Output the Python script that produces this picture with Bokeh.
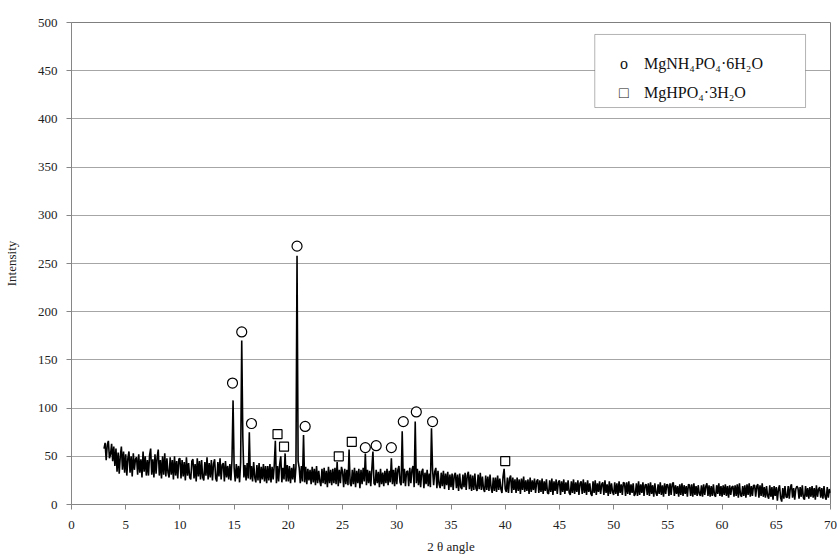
from bokeh.plotting import figure
from bokeh.models import BoxAnnotation, Label, Range1d, FixedTicker
from bokeh.embed import file_html
from bokeh.resources import INLINE

# ---- data -----------------------------------------------------------------
two_theta_start = 3.0
two_theta_step = 0.1
intensity = [
    58, 64, 46, 62, 66, 48, 52, 63, 45, 60,   # 3
    40, 58, 34, 54, 32, 50, 60, 36, 55, 33,   # 4
    52, 30, 48, 55, 33, 50, 29, 53, 36, 47,   # 5
    49, 31, 52, 33, 47, 28, 55, 34, 50, 30,   # 6
    46, 30, 51, 58, 31, 47, 28, 52, 32, 49,   # 7
    57, 30, 46, 27, 50, 31, 53, 29, 48, 33,   # 8
    28, 49, 31, 46, 26, 50, 30, 45, 27, 47,   # 9
    48, 27, 46, 29, 44, 25, 49, 30, 43, 28,   # 10
    26, 45, 47, 27, 42, 24, 48, 29, 45, 26,   # 11
    46, 28, 25, 44, 30, 49, 26, 43, 28, 46,   # 12
    25, 42, 47, 27, 24, 44, 29, 48, 26, 41,   # 13
    43, 24, 45, 28, 40, 26, 42, 25, 46, 108,  # 14
    38, 24, 42, 27, 40, 23, 44, 170, 70, 28,  # 15
    41, 25, 43, 27, 75, 26, 40, 24, 44, 28,   # 16
    23, 41, 25, 43, 22, 39, 26, 42, 24, 40,   # 17
    22, 40, 25, 42, 23, 39, 26, 41, 66, 22,   # 18
    40, 24, 42, 50, 23, 38, 26, 53, 24, 41,   # 19
    24, 40, 22, 38, 26, 42, 23, 39, 258, 45,  # 20
    38, 22, 40, 24, 72, 23, 39, 21, 37, 25,   # 21
    36, 21, 39, 23, 37, 20, 40, 22, 35, 24,   # 22
    19, 37, 22, 38, 21, 35, 18, 39, 22, 36,   # 23
    20, 37, 22, 38, 21, 44, 19, 36, 22, 39,   # 24
    34, 18, 37, 21, 36, 20, 57, 22, 19, 36,   # 25
    21, 38, 18, 35, 22, 37, 17, 36, 21, 38,   # 26
    24, 53, 20, 36, 22, 35, 19, 37, 55, 22,   # 27
    20, 36, 22, 34, 18, 37, 21, 33, 19, 35,   # 28
    22, 37, 20, 35, 23, 48, 21, 36, 19, 38,   # 29
    21, 36, 40, 23, 20, 76, 22, 37, 19, 34,   # 30
    35, 19, 38, 22, 36, 40, 18, 86, 22, 37,   # 31
    20, 35, 18, 34, 37, 17, 33, 21, 36, 19,   # 32
    32, 18, 79, 36, 20, 34, 38, 17, 35, 21,   # 33
    17, 33, 19, 35, 16, 32, 20, 34, 15, 31,   # 34
    18, 32, 15, 30, 33, 17, 31, 14, 32, 18,   # 35
    16, 31, 18, 33, 15, 30, 34, 16, 31, 14,   # 36
    30, 15, 32, 17, 14, 31, 16, 33, 15, 29,   # 37
    16, 13, 30, 15, 29, 14, 31, 17, 12, 28,   # 38
    14, 28, 13, 30, 15, 27, 16, 12, 29, 37,   # 39
    16, 13, 28, 12, 27, 30, 12, 28, 15, 26,   # 40
    12, 28, 14, 26, 11, 27, 15, 29, 13, 25,   # 41
    14, 26, 11, 28, 13, 25, 15, 27, 12, 24,   # 42
    26, 12, 25, 13, 27, 11, 24, 14, 26, 12,   # 43
    11, 25, 13, 27, 10, 24, 14, 26, 11, 23,   # 44
    25, 10, 24, 13, 26, 11, 23, 14, 25, 12,   # 45
    10, 24, 12, 26, 11, 23, 13, 25, 10, 22,   # 46
    24, 11, 26, 12, 23, 10, 25, 13, 22, 11,   # 47
    9, 24, 12, 25, 10, 22, 13, 24, 11, 21,    # 48
    23, 10, 25, 12, 21, 9, 24, 11, 22, 13,    # 49
    10, 23, 11, 22, 9, 24, 12, 21, 10, 23,    # 50
    22, 9, 23, 11, 24, 10, 21, 12, 22, 9,     # 51
    11, 22, 9, 24, 10, 21, 12, 23, 9, 20,     # 52
    21, 10, 22, 9, 23, 11, 20, 8, 22, 12,     # 53
    9, 21, 11, 23, 10, 20, 8, 22, 11, 21,     # 54
    20, 9, 22, 10, 21, 23, 9, 20, 11, 19,     # 55
    8, 21, 10, 22, 9, 20, 11, 19, 8, 21,      # 56
    20, 9, 21, 8, 22, 10, 19, 9, 20, 11,      # 57
    9, 20, 8, 21, 10, 19, 22, 9, 20, 8,       # 58
    19, 9, 21, 10, 8, 20, 11, 22, 9, 19,      # 59
    8, 20, 10, 21, 9, 19, 7, 20, 10, 18,      # 60
    19, 8, 20, 9, 21, 7, 22, 10, 8, 19,       # 61
    9, 20, 7, 21, 10, 22, 8, 19, 9, 20,       # 62
    20, 8, 19, 21, 7, 20, 9, 22, 8, 18,       # 63
    7, 19, 9, 6, 20, 8, 18, 5, 19, 9,         # 64
    18, 4, 16, 20, 7, 3, 17, 6, 19, 8,        # 65
    7, 19, 6, 18, 21, 7, 17, 5, 16, 19,       # 66
    17, 6, 18, 8, 20, 7, 5, 19, 8, 17,        # 67
    6, 18, 8, 19, 7, 17, 5, 20, 8, 16,        # 68
    18, 7, 17, 6, 19, 8, 5, 18, 7, 16,        # 69
    12,                                       # 70
]
two_theta = [round(two_theta_start + i * two_theta_step, 2) for i in range(len(intensity))]

# peak markers: MgNH4PO4·6H2O (circles) and MgHPO4·3H2O (squares)
struvite_x = [14.85, 15.7, 16.6, 20.8, 21.55, 27.1, 28.1, 29.5, 30.6, 31.8, 33.3]
struvite_y = [126, 179, 84, 268, 81, 59, 61, 59, 86, 96, 86]
newberyite_x = [19.0, 19.6, 24.65, 25.85, 40.0]
newberyite_y = [73, 60, 50, 65, 45]

x_ticks = [0, 5, 10, 15, 20, 25, 30, 35, 40, 45, 50, 55, 60, 65, 70]
y_ticks = [0, 50, 100, 150, 200, 250, 300, 350, 400, 450, 500]

legend_labels = ["MgNH\u2084PO\u2084\u00b76H\u2082O", "MgHPO\u2084\u00b73H\u2082O"]
legend_symbols = ["o", "\u25a1"]

# ---- figure ---------------------------------------------------------------
FONT = "Liberation Serif"

p = figure(width=837, height=558, output_backend="svg", toolbar_location=None,
           x_range=Range1d(0, 70), y_range=Range1d(0, 500),
           min_border_left=70, min_border_right=7, min_border_top=22,
           min_border_bottom=54)

p.background_fill_color = "white"
p.border_fill_color = "white"
p.outline_line_color = "#7f7f7f"
p.outline_line_width = 1

p.xgrid.visible = False
p.ygrid.grid_line_color = "#a6a6a6"
p.ygrid.grid_line_width = 1

p.xaxis.ticker = FixedTicker(ticks=x_ticks)
p.yaxis.ticker = FixedTicker(ticks=y_ticks)
for ax in (p.xaxis, p.yaxis):
    ax.axis_line_color = "#868686"
    ax.major_tick_line_color = "#868686"
    ax.minor_tick_line_color = None
    ax.major_tick_in = 0
    ax.major_tick_out = 5
    ax.major_label_text_font = FONT
    ax.major_label_text_font_size = "13px"
    ax.major_label_text_color = "#222222"
    ax.axis_label_text_font = FONT
    ax.axis_label_text_font_size = "13px"
    ax.axis_label_text_font_style = "normal"
    ax.axis_label_text_color = "#222222"

p.xaxis.axis_label = "2 \u03b8 angle"
p.yaxis.axis_label = "Intensity"
p.xaxis.major_label_standoff = 11
p.xaxis.axis_label_standoff = 7
p.yaxis.major_label_standoff = 9
p.yaxis.axis_label_standoff = 16

p.line(two_theta, intensity, line_color="black", line_width=1.6)

p.scatter(struvite_x, struvite_y, marker="circle", size=10,
          fill_color="white", line_color="black", line_width=1.2)
p.scatter(newberyite_x, newberyite_y, marker="square", size=9,
          fill_color="white", line_color="black", line_width=1.2)

# legend box (drawn as annotation)
p.add_layout(BoxAnnotation(left=48.26, right=67.7, bottom=411.8, top=487.6,
                           fill_color="white", fill_alpha=1.0,
                           line_color="black", line_width=1, level="annotation"))
row_y = [457.5, 427.7]
for sym, lab, yy in zip(legend_symbols, legend_labels, row_y):
    p.add_layout(Label(x=50.95, y=yy, text=sym, text_font=FONT,
                       text_font_size="16px", text_align="center",
                       text_baseline="middle", text_color="#111111"))
    p.add_layout(Label(x=52.8, y=yy, text=lab, text_font=FONT,
                       text_font_size="16px", text_align="left",
                       text_baseline="middle", text_color="#111111"))

open("out.html", "w").write(file_html(p, INLINE))
